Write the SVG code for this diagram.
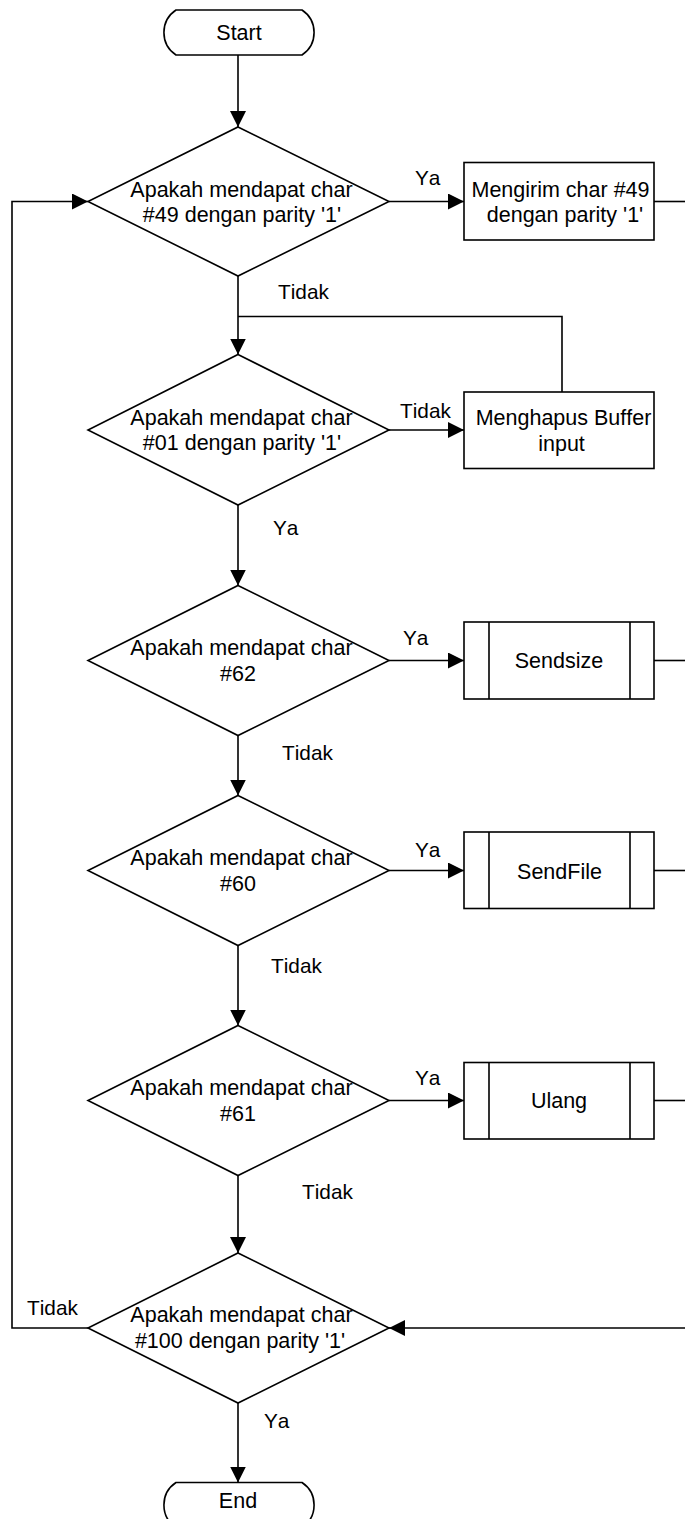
<svg xmlns="http://www.w3.org/2000/svg" width="685" height="1519" viewBox="0 0 685 1519">
<style>
  .shape { fill: #ffffff; stroke: #000000; stroke-width: 1.6; }
  .line { fill: none; stroke: #000000; stroke-width: 1.6; }
  text { font-family: "Liberation Sans", Arial, sans-serif; font-size: 21.5px; fill: #000000; font-kerning: none; }
  .c { text-anchor: middle; }
  .lbl { font-size: 20.8px; }
</style>
<defs>
  <marker id="arrow" markerUnits="userSpaceOnUse" markerWidth="16" markerHeight="16" viewBox="0 0 14 14" refX="14" refY="7" orient="auto">
    <path d="M0,0 L14,7 L0,14 Z" fill="#000000"/>
  </marker>
</defs>
<rect x="0" y="0" width="685" height="1519" fill="#ffffff"/>

<g id="connectors">
  <path class="line" d="M238,55 V127" marker-end="url(#arrow)"/>
  <path class="line" d="M389,201.5 H464" marker-end="url(#arrow)"/>
  <path class="line" d="M654,201.5 H685"/>
  <path class="line" d="M238,276 V354.5" marker-end="url(#arrow)"/>
  <path class="line" d="M562,392 V316.5 H238"/>
  <path class="line" d="M389,430 H464" marker-end="url(#arrow)"/>
  <path class="line" d="M238,505 V585.5" marker-end="url(#arrow)"/>
  <path class="line" d="M389,660.5 H464" marker-end="url(#arrow)"/>
  <path class="line" d="M654,660.5 H685"/>
  <path class="line" d="M238,735.5 V795.5" marker-end="url(#arrow)"/>
  <path class="line" d="M389,870.5 H464" marker-end="url(#arrow)"/>
  <path class="line" d="M654,870.5 H685"/>
  <path class="line" d="M238,945.5 V1025.5" marker-end="url(#arrow)"/>
  <path class="line" d="M389,1100.5 H464" marker-end="url(#arrow)"/>
  <path class="line" d="M654,1100.5 H685"/>
  <path class="line" d="M238,1175.5 V1253" marker-end="url(#arrow)"/>
  <path class="line" d="M685,1328 H389" marker-end="url(#arrow)"/>
  <path class="line" d="M88,1328 H12 V201.5 H88" marker-end="url(#arrow)"/>
  <path class="line" d="M238,1403 V1482.5" marker-end="url(#arrow)"/>
</g>

<g id="labels">
  <text class="lbl" x="415" y="185">Ya</text>
  <text class="lbl" x="278" y="299">Tidak</text>
  <text class="lbl" x="400" y="418">Tidak</text>
  <text class="lbl" x="273" y="535">Ya</text>
  <text class="lbl" x="403" y="645">Ya</text>
  <text class="lbl" x="282" y="760">Tidak</text>
  <text class="lbl" x="415" y="857">Ya</text>
  <text class="lbl" x="271" y="973">Tidak</text>
  <text class="lbl" x="415" y="1085">Ya</text>
  <text class="lbl" x="302" y="1199">Tidak</text>
  <text class="lbl" x="27" y="1315">Tidak</text>
  <text class="lbl" x="264" y="1428">Ya</text>
</g>

<g id="start">
  <path class="shape" d="M176,10 H302 A27,27 0 0 1 302,55 H176 A27,27 0 0 1 176,10 Z"/>
  <text class="c" x="239" y="40">Start</text>
</g>

<g id="d1">
  <polygon class="shape" points="238,127 389,201.5 238,276 88,201.5"/>
  <text class="c" x="241.5" y="197">Apakah mendapat char</text>
  <text class="c" x="242" y="222">#49 dengan parity '1'</text>
</g>

<g id="p1">
  <rect class="shape" x="464" y="162.5" width="190" height="77.5"/>
  <text class="c" x="560.5" y="197">Mengirim char #49</text>
  <text class="c" x="565" y="222">dengan parity '1'</text>
</g>

<g id="d2">
  <polygon class="shape" points="238,354.5 389,430 238,505 88,430"/>
  <text class="c" x="241.5" y="424.5">Apakah mendapat char</text>
  <text class="c" x="242" y="450">#01 dengan parity '1'</text>
</g>

<g id="p2">
  <rect class="shape" x="464" y="392" width="190" height="76.5"/>
  <text class="c" x="563.5" y="424.5">Menghapus Buffer</text>
  <text class="c" x="561.5" y="451">input</text>
</g>

<g id="d3">
  <polygon class="shape" points="238,585.5 389,660.5 238,735.5 88,660.5"/>
  <text class="c" x="241.5" y="655">Apakah mendapat char</text>
  <text class="c" x="238" y="681">#62</text>
</g>

<g id="sendsize">
  <rect class="shape" x="464" y="622" width="190" height="77"/>
  <path class="line" d="M489,622 V699 M630,622 V699"/>
  <text class="c" x="559" y="668">Sendsize</text>
</g>

<g id="d4">
  <polygon class="shape" points="238,795.5 389,870.5 238,945.5 88,870.5"/>
  <text class="c" x="241.5" y="865">Apakah mendapat char</text>
  <text class="c" x="238" y="891">#60</text>
</g>

<g id="sendfile">
  <rect class="shape" x="464" y="832" width="190" height="76.5"/>
  <path class="line" d="M489,832 V908.5 M630,832 V908.5"/>
  <text class="c" x="559.5" y="879">SendFile</text>
</g>

<g id="d5">
  <polygon class="shape" points="238,1025.5 389,1100.5 238,1175.5 88,1100.5"/>
  <text class="c" x="241.5" y="1095">Apakah mendapat char</text>
  <text class="c" x="238" y="1120.5">#61</text>
</g>

<g id="ulang">
  <rect class="shape" x="464" y="1062.5" width="190" height="76.5"/>
  <path class="line" d="M489,1062.5 V1139 M630,1062.5 V1139"/>
  <text class="c" x="559" y="1108">Ulang</text>
</g>

<g id="d6">
  <polygon class="shape" points="238,1253 389,1328 238,1403 88,1328"/>
  <text class="c" x="241.5" y="1322">Apakah mendapat char</text>
  <text class="c" x="240" y="1348">#100 dengan parity '1'</text>
</g>

<g id="end">
  <path class="shape" d="M176,1482.5 H302 A27,27 0 0 1 302,1527.5 H176 A27,27 0 0 1 176,1482.5 Z"/>
  <text class="c" x="238" y="1508">End</text>
</g>
</svg>
